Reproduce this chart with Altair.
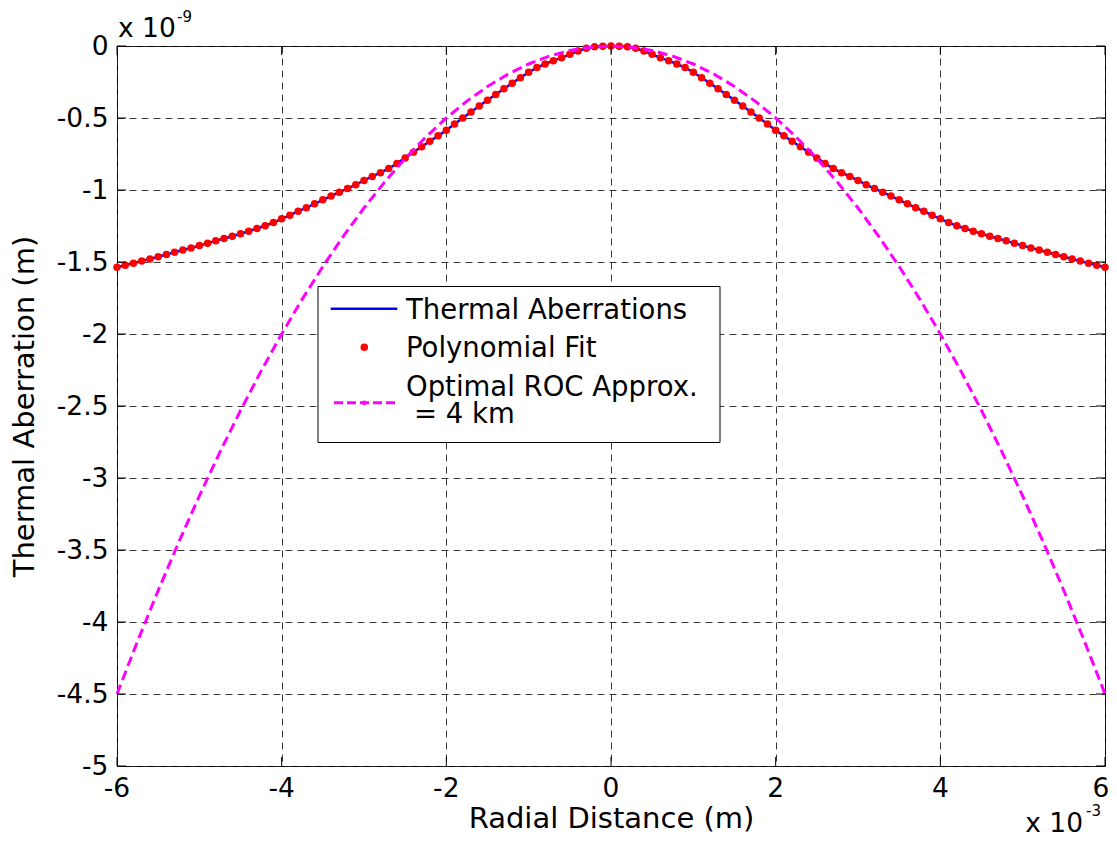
import altair as alt
import pandas as pd

# ---------------- data (x in 1e-3 m, y in 1e-9 m) ----------------
x_fit = [-6.0, -5.9, -5.8, -5.7, -5.6, -5.5, -5.4, -5.3, -5.2, -5.1,
         -5.0, -4.9, -4.8, -4.7, -4.6, -4.5, -4.4, -4.3, -4.2, -4.1,
         -4.0, -3.9, -3.8, -3.7, -3.6, -3.5, -3.4, -3.3, -3.2, -3.1,
         -3.0, -2.9, -2.8, -2.7, -2.6, -2.5, -2.4, -2.3, -2.2, -2.1,
         -2.0, -1.9, -1.8, -1.7, -1.6, -1.5, -1.4, -1.3, -1.2, -1.1,
         -1.0, -0.9, -0.8, -0.7, -0.6, -0.5, -0.4, -0.3, -0.2, -0.1,
         0.0,
         0.1, 0.2, 0.3, 0.4, 0.5, 0.6, 0.7, 0.8, 0.9, 1.0,
         1.1, 1.2, 1.3, 1.4, 1.5, 1.6, 1.7, 1.8, 1.9, 2.0,
         2.1, 2.2, 2.3, 2.4, 2.5, 2.6, 2.7, 2.8, 2.9, 3.0,
         3.1, 3.2, 3.3, 3.4, 3.5, 3.6, 3.7, 3.8, 3.9, 4.0,
         4.1, 4.2, 4.3, 4.4, 4.5, 4.6, 4.7, 4.8, 4.9, 5.0,
         5.1, 5.2, 5.3, 5.4, 5.5, 5.6, 5.7, 5.8, 5.9, 6.0]

thermal_y = [-1.536, -1.522, -1.508, -1.493, -1.479, -1.463, -1.448, -1.432, -1.417, -1.402,
             -1.386, -1.370, -1.353, -1.337, -1.321, -1.304, -1.286, -1.267, -1.248, -1.226,
             -1.200, -1.175, -1.148, -1.123, -1.096, -1.068, -1.042, -1.015, -0.990, -0.963,
             -0.934, -0.906, -0.880, -0.851, -0.816, -0.777, -0.737, -0.700, -0.662, -0.624,
             -0.585, -0.542, -0.500, -0.458, -0.416, -0.376, -0.337, -0.297, -0.258, -0.220,
             -0.182, -0.150, -0.125, -0.102, -0.082, -0.058, -0.035, -0.016, -0.005, -0.001,
             0.000,
             -0.001, -0.005, -0.016, -0.035, -0.058, -0.082, -0.102, -0.125, -0.150, -0.182,
             -0.220, -0.258, -0.297, -0.337, -0.376, -0.416, -0.458, -0.500, -0.542, -0.585,
             -0.624, -0.662, -0.700, -0.737, -0.777, -0.816, -0.851, -0.880, -0.906, -0.934,
             -0.963, -0.990, -1.015, -1.042, -1.068, -1.096, -1.123, -1.148, -1.175, -1.200,
             -1.226, -1.248, -1.267, -1.286, -1.304, -1.321, -1.337, -1.353, -1.370, -1.386,
             -1.402, -1.417, -1.432, -1.448, -1.463, -1.479, -1.493, -1.508, -1.522, -1.536]

fit_y = [-1.536, -1.522, -1.508, -1.493, -1.479, -1.463, -1.448, -1.432, -1.417, -1.402,
         -1.386, -1.370, -1.353, -1.337, -1.321, -1.304, -1.286, -1.267, -1.248, -1.226,
         -1.200, -1.175, -1.148, -1.123, -1.096, -1.068, -1.042, -1.015, -0.990, -0.963,
         -0.934, -0.906, -0.880, -0.851, -0.816, -0.777, -0.737, -0.700, -0.662, -0.624,
         -0.585, -0.542, -0.500, -0.458, -0.416, -0.376, -0.337, -0.297, -0.258, -0.220,
         -0.182, -0.150, -0.125, -0.102, -0.082, -0.058, -0.035, -0.016, -0.005, -0.001,
         0.000,
         -0.001, -0.005, -0.016, -0.035, -0.058, -0.082, -0.102, -0.125, -0.150, -0.182,
         -0.220, -0.258, -0.297, -0.337, -0.376, -0.416, -0.458, -0.500, -0.542, -0.585,
         -0.624, -0.662, -0.700, -0.737, -0.777, -0.816, -0.851, -0.880, -0.906, -0.934,
         -0.963, -0.990, -1.015, -1.042, -1.068, -1.096, -1.123, -1.148, -1.175, -1.200,
         -1.226, -1.248, -1.267, -1.286, -1.304, -1.321, -1.337, -1.353, -1.370, -1.386,
         -1.402, -1.417, -1.432, -1.448, -1.463, -1.479, -1.493, -1.508, -1.522, -1.536]

roc_x = [-6.0, -5.75, -5.5, -5.25, -5.0, -4.75, -4.5, -4.25, -4.0, -3.75, -3.5, -3.25,
         -3.0, -2.75, -2.5, -2.25, -2.0, -1.75, -1.5, -1.25, -1.0, -0.75, -0.5, -0.25,
         0.0,
         0.25, 0.5, 0.75, 1.0, 1.25, 1.5, 1.75, 2.0, 2.25, 2.5, 2.75, 3.0,
         3.25, 3.5, 3.75, 4.0, 4.25, 4.5, 4.75, 5.0, 5.25, 5.5, 5.75, 6.0]
roc_y = [-4.5, -4.1328, -3.7813, -3.4453, -3.125, -2.8203, -2.5313, -2.2578, -2.0, -1.7578, -1.5313, -1.3203,
         -1.125, -0.9453, -0.7813, -0.6328, -0.5, -0.3828, -0.2813, -0.1953, -0.125, -0.0703, -0.0313, -0.0078,
         0.0,
         -0.0078, -0.0313, -0.0703, -0.125, -0.1953, -0.2813, -0.3828, -0.5, -0.6328, -0.7813, -0.9453, -1.125,
         -1.3203, -1.5313, -1.7578, -2.0, -2.2578, -2.5313, -2.8203, -3.125, -3.4453, -3.7813, -4.1328, -4.5]

x_ticks = [-6, -4, -2, 0, 2, 4, 6]
x_tick_labels = ["-6", "-4", "-2", "0", "2", "4", "6"]
y_ticks = [0, -0.5, -1, -1.5, -2, -2.5, -3, -3.5, -4, -4.5, -5]

legend_labels = ["Thermal Aberrations", "Polynomial Fit", "Optimal ROC Approx.", "= 4 km"]
x_title = "Radial Distance (m)"
y_title = "Thermal Aberration (m)"
x_exp = ["x 10", "-3"]
y_exp = ["x 10", "-9"]

# ---------------- styling ----------------
FONT = "DejaVu Sans"
W, H = 988, 720
BLUE, RED, MAG = "#0000FF", "#FF0000", "#FF00FF"

xs = alt.Scale(domain=[-6, 6], nice=False, zero=False)
ys = alt.Scale(domain=[-5, 0], nice=False, zero=False)

xaxis = alt.Axis(values=x_ticks, title=x_title, labels=False,
                 titleY=61, titleBaseline="alphabetic", titleFontSize=29)
yaxis = alt.Axis(values=y_ticks, title=y_title, labelExpr="'' + datum.value",
                 labelFlush=False, labelOverlap=False, labelPadding=9,
                 titleX=-84, titleBaseline="alphabetic", titleAngle=270,
                 titleFontSize=29)


def X(field="x"):
    return alt.X(f"{field}:Q", scale=xs, axis=xaxis)


def Y(field="y"):
    return alt.Y(f"{field}:Q", scale=ys, axis=yaxis)


curve_df = pd.DataFrame({"x": x_fit, "y": thermal_y})
fit_df = pd.DataFrame({"x": x_fit, "y": fit_y})
roc_df = pd.DataFrame({"x": roc_x, "y": roc_y})
xt_df = pd.DataFrame({"x": x_ticks, "label": x_tick_labels})
yt_df = pd.DataFrame({"y": y_ticks})
one = pd.DataFrame({"d": [0]})

thermal_line = alt.Chart(curve_df).mark_line(color=BLUE, strokeWidth=2.5).encode(x=X(), y=Y())
fit_pts = alt.Chart(fit_df).mark_circle(color=RED, size=56, opacity=1).encode(x=X(), y=Y())
roc_line = alt.Chart(roc_df).mark_line(color=MAG, strokeWidth=3, strokeDash=[10, 5]).encode(x=X(), y=Y())

tick_len = 9
ticks_bottom = alt.Chart(xt_df).mark_rule(color="black", strokeWidth=1).encode(
    x=X(), y=alt.value(H), y2=alt.value(H - tick_len))
ticks_top = alt.Chart(xt_df).mark_rule(color="black", strokeWidth=1).encode(
    x=X(), y=alt.value(0), y2=alt.value(tick_len))
ticks_left = alt.Chart(yt_df).mark_rule(color="black", strokeWidth=1).encode(
    y=Y(), x=alt.value(0), x2=alt.value(tick_len))
ticks_right = alt.Chart(yt_df).mark_rule(color="black", strokeWidth=1).encode(
    y=Y(), x=alt.value(W), x2=alt.value(W - tick_len))

# x tick labels as text (the last one nudged left so it stays on the page)
xlab_main = alt.Chart(xt_df[xt_df["x"] < 6]).mark_text(
    align="center", baseline="alphabetic", font=FONT, fontSize=26.5, color="black").encode(
    x=X(), y=alt.value(H + 31), text="label:N")
xlab_last = alt.Chart(xt_df[xt_df["x"] == 6]).mark_text(
    align="center", baseline="alphabetic", font=FONT, fontSize=26.5, color="black", dx=-4).encode(
    x=X(), y=alt.value(H + 31), text="label:N")

# legend box
leg_box = alt.Chart(one).mark_rect(fill="white", stroke="black", strokeWidth=1).encode(
    x=alt.value(201), x2=alt.value(603), y=alt.value(240.5), y2=alt.value(396.5))
leg_blue = alt.Chart(one).mark_rule(color=BLUE, strokeWidth=2.5).encode(
    x=alt.value(213.7), x2=alt.value(280.3), y=alt.value(262.8))
leg_red = alt.Chart(one).mark_circle(color=RED, size=56, opacity=1).encode(
    x=alt.value(247.3), y=alt.value(301.2))
leg_mag = alt.Chart(one).mark_rule(color=MAG, strokeWidth=3, strokeDash=[9, 4]).encode(
    x=alt.value(217), x2=alt.value(279), y=alt.value(356.8))
leg_mag_dot = alt.Chart(one).mark_circle(color=MAG, size=22, opacity=1).encode(
    x=alt.value(247.3), y=alt.value(356.8))


def txt(s, x, y, size=27.5, align="left"):
    return alt.Chart(one).mark_text(text=s, align=align, baseline="alphabetic",
                                    font=FONT, fontSize=size, color="black").encode(
        x=alt.value(x), y=alt.value(y))


leg_t1 = txt(legend_labels[0], 289, 272.8)
leg_t2 = txt(legend_labels[1], 289, 310.5)
leg_t3 = txt(legend_labels[2], 289, 349.5)
leg_t4 = txt(legend_labels[3], 297, 376.5)

# exponent annotations
yexp1 = txt(y_exp[0], 1, -9.5, size=26.5)
yexp2 = txt(y_exp[1], 60, -24.5, size=15)
xexp1 = txt(x_exp[0], 966, 785.5, size=26.5, align="right")
xexp2 = txt(x_exp[1], 969, 769.5, size=15)

chart = alt.layer(
    thermal_line, fit_pts, roc_line,
    ticks_bottom, ticks_top, ticks_left, ticks_right,
    xlab_main, xlab_last,
    leg_box, leg_blue, leg_red, leg_mag, leg_mag_dot,
    leg_t1, leg_t2, leg_t3, leg_t4,
    yexp1, yexp2, xexp1, xexp2,
).properties(
    width=W, height=H,
    padding={"left": 109, "top": 38, "right": 4, "bottom": 72},
    autosize=alt.AutoSizeParams(type="none"),
    background="white",
).configure_view(
    stroke="black", strokeWidth=1
).configure_axis(
    grid=True, gridColor="#222", gridDash=[7, 5], gridWidth=0.9, gridOpacity=1,
    domain=False, ticks=False, tickSize=0,
    labelFont=FONT, labelFontSize=26.5, labelColor="black",
    titleFont=FONT, titleFontSize=29, titleFontWeight="normal", titleColor="black",
)

chart.save("out.html", embed_options={"renderer": "svg", "actions": False})
